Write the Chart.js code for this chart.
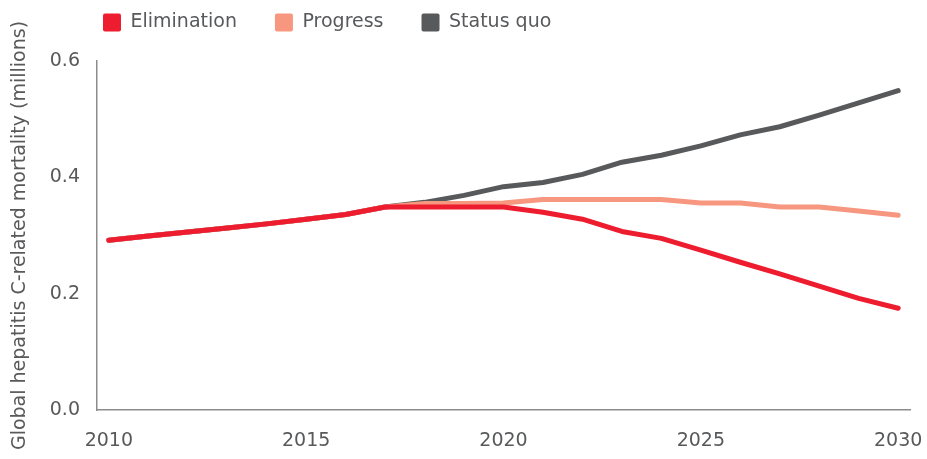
<!DOCTYPE html>
<html>
<head>
<meta charset="utf-8">
<script src="https://cdn.jsdelivr.net/npm/chart.js@4.4.1/dist/chart.umd.min.js"></script>
<style>
  html, body { margin: 0; padding: 0; background: #fff; }
  #wrap { width: 927px; height: 459px; position: relative; }
</style>
</head>
<body>
<div id="wrap"><canvas id="chart"></canvas></div>
<script>
// ── Data ──
const years = [2010, 2011, 2012, 2013, 2014, 2015, 2016, 2017, 2018, 2019, 2020,
  2021, 2022, 2023, 2024, 2025, 2026, 2027, 2028, 2029, 2030];
const elimination = [0.292, 0.299, 0.306, 0.313, 0.320, 0.328, 0.336, 0.349, 0.349, 0.349, 0.349,
  0.340, 0.328, 0.307, 0.295, 0.275, 0.254, 0.234, 0.213, 0.192, 0.175];
const progress = [0.292, 0.299, 0.306, 0.313, 0.320, 0.328, 0.336, 0.349, 0.355, 0.355, 0.356,
  0.362, 0.362, 0.362, 0.362, 0.356, 0.356, 0.349, 0.349, 0.342, 0.335];
const statusQuo = [0.292, 0.299, 0.306, 0.313, 0.320, 0.328, 0.336, 0.349, 0.357, 0.369, 0.384,
  0.391, 0.405, 0.426, 0.438, 0.454, 0.473, 0.487, 0.507, 0.528, 0.549];
const xTicks = [2010, 2015, 2020, 2025, 2030];
const seriesNames = ['Elimination', 'Progress', 'Status quo'];

const TEXT = '#58595b';
const FONT = '"DejaVu Sans", sans-serif';
const LEGEND_PAD = 38;

function points(values) {
  return years.map(function(yr, i) { return { x: yr, y: values[i] }; });
}

function lineSet(label, values, color) {
  return {
    label: label,
    data: points(values),
    borderColor: color,
    backgroundColor: color,
    borderWidth: 5,
    borderCapStyle: 'round',
    borderJoinStyle: 'round',
    pointRadius: 0,
    tension: 0
  };
}

// legend sits left-aligned above the plot, shift it into place
const legendPlace = {
  id: 'legendPlace',
  beforeInit(chart) {
    const fit = chart.legend.fit;
    chart.legend.fit = function() { fit.call(this); this.height = 61; };
  },
  afterLayout(chart) {
    chart.legend.left = 103 - LEGEND_PAD;
    chart.legend.top = 13 - LEGEND_PAD;
  }
};

new Chart(document.getElementById('chart'), {
  type: 'line',
  data: {
    datasets: [
      lineSet(seriesNames[0], elimination, '#ed1c2e'),
      lineSet(seriesNames[1], progress, '#f7977f'),
      lineSet(seriesNames[2], statusQuo, '#58595b')
    ]
  },
  options: {
    responsive: true, maintainAspectRatio: false, animation: false,
    layout: { padding: { left: 0, right: 17, top: 0, bottom: 0 } },
    plugins: {
      tooltip: { enabled: false },
      legend: {
        position: 'top', align: 'start',
        labels: {
          color: TEXT, font: { family: FONT, size: 19 },
          boxWidth: 18, boxHeight: 18, padding: LEGEND_PAD,
          useBorderRadius: true, borderRadius: 2,
          generateLabels: function(chart) {
            return Chart.defaults.plugins.legend.labels.generateLabels(chart).map(function(l) {
              l.lineWidth = 0; return l;
            });
          }
        }
      }
    },
    scales: {
      x: {
        type: 'linear', min: 2009.7, max: 2030.3,
        grid: { display: false, drawTicks: false },
        border: { display: true, color: '#8c8c8c', width: 1.5 },
        ticks: { color: TEXT, font: { family: FONT, size: 19 }, padding: 20, maxRotation: 0,
          callback: function(v) { return String(v); } },
        afterBuildTicks: function(scale) { scale.ticks = xTicks.map(function(v) { return { value: v }; }); },
        afterFit: function(scale) {
          scale.height = 49;
          scale.paddingLeft = 0;
          scale.paddingRight = 0;
        }
      },
      y: {
        min: 0, max: 0.6,
        grid: { display: false, drawTicks: false },
        border: { display: true, color: '#8c8c8c', width: 1.5 },
        ticks: { stepSize: 0.2, color: TEXT, font: { family: FONT, size: 19 }, padding: 17,
          callback: function(v) { return Number(v).toFixed(1); } },
        title: { display: true, text: 'Global hepatitis C-related mortality (millions)',
          color: TEXT, font: { family: FONT, size: 19 }, padding: { top: 9, bottom: 0 } },
        afterFit: function(scale) { scale.width = 97; }
      }
    }
  },
  plugins: [legendPlace]
});
</script>
</body>
</html>
